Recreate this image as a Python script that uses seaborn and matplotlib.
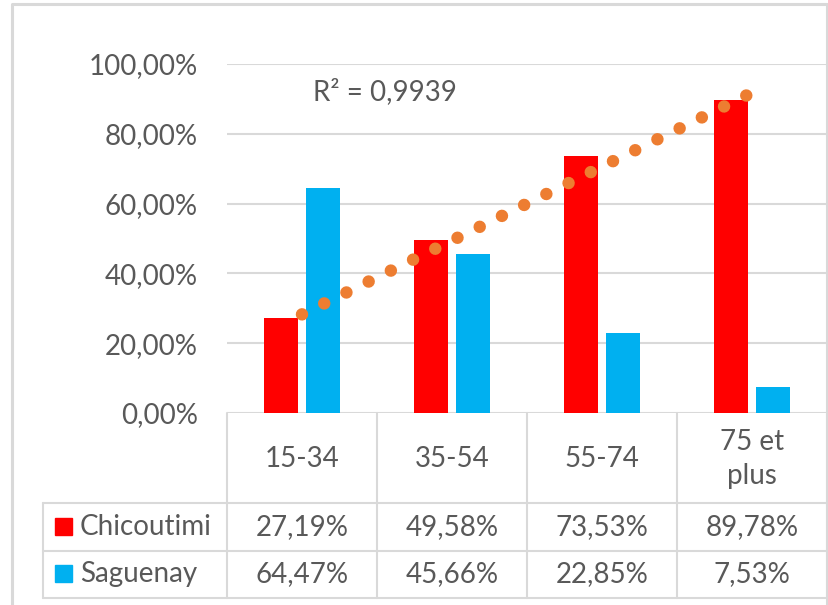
import numpy as np
import pandas as pd
import matplotlib.pyplot as plt
import seaborn as sns
from matplotlib.ticker import FuncFormatter
from matplotlib.patches import Rectangle

# data
categories = ["15-34", "35-54", "55-74", "75 et\nplus"]
chicoutimi = [27.19, 49.58, 73.53, 89.78]
saguenay = [64.47, 45.66, 22.85, 7.53]
series_names = ["Chicoutimi", "Saguenay"]
colors = ["#FF0000", "#00B0F0"]

df = pd.DataFrame({
    "age": categories * 2,
    "ville": [series_names[0]] * 4 + [series_names[1]] * 4,
    "taux": chicoutimi + saguenay,
})

sns.set_style("white")
plt.rcParams["font.family"] = ["Lato", "DejaVu Sans"]
txt_color = "#595959"
grid_color = "#d9d9d9"
fs = 20

def pct(v, pos=None):
    return f"{v:.2f}".replace(".", ",") + "%"

W, H = 829, 605
fig = plt.figure(figsize=(W / 100, H / 100), dpi=100)

# overlay axes in pixel coordinates for the data table and the frame
tab = fig.add_axes([0, 0, 1, 1], zorder=0)
tab.set_xlim(0, W)
tab.set_ylim(H, 0)
tab.axis("off")

# plot area
x0, x1, y_top, y_bot = 227, 827, 64, 413
ax = fig.add_axes([x0 / W, (H - y_bot) / H, (x1 - x0) / W, (y_bot - y_top) / H], zorder=1)
ax.patch.set_alpha(0)

sns.barplot(data=df, x="age", y="taux", hue="ville", palette=colors,
            width=0.57, gap=0.2, errorbar=None, legend=False, ax=ax,
            linewidth=0, saturation=1)

# linear trendline for Chicoutimi
xs = np.arange(1, len(chicoutimi) + 1)
slope, intercept = np.polyfit(xs, chicoutimi, 1)
fit = slope * xs + intercept
r2 = 1 - np.sum((np.array(chicoutimi) - fit) ** 2) / np.sum((np.array(chicoutimi) - np.mean(chicoutimi)) ** 2)
pos = np.array([0, len(categories) - 1])
ax.plot(pos, slope * (pos + 1) + intercept, color="#ED7D31", lw=9,
        linestyle=(0, (0.001, 1.98)), dash_capstyle="round", zorder=5)
ax.text(0.55, 92, ("R² = " + f"{r2:.4f}").replace(".", ","), fontsize=fs,
        color=txt_color, ha="center", va="center")

ax.set_xlim(-0.5, len(categories) - 0.5)
ax.set_ylim(0, 100)
ax.set_yticks(np.arange(0, 101, 20))
ax.yaxis.set_major_formatter(FuncFormatter(pct))
ax.tick_params(axis="y", length=0, pad=21, labelsize=fs, labelcolor=txt_color)
ax.tick_params(axis="x", length=0, labelbottom=False)
ax.set_xlabel("")
ax.set_ylabel("")
ax.yaxis.grid(True, color=grid_color, lw=1.5)
ax.set_axisbelow(True)
for s in ax.spines.values():
    s.set_visible(False)

# data table
col_w = (x1 - x0) / len(categories)
col_edges = [x0 + col_w * i for i in range(len(categories) + 1)]
row_lines = [y_bot, 503, 551, 598]
leg_left = 43
lw_t = 1.5
for xe in col_edges:
    tab.plot([xe, xe], [y_bot, row_lines[-1]], color=grid_color, lw=lw_t)
tab.plot([leg_left, leg_left], [row_lines[1], row_lines[-1]], color=grid_color, lw=lw_t)
for ye in row_lines[1:]:
    tab.plot([leg_left, x1], [ye, ye], color=grid_color, lw=lw_t)

for i, cat in enumerate(categories):
    cx = x0 + col_w * (i + 0.5)
    tab.text(cx, 459, cat, fontsize=fs, color=txt_color, ha="center", va="center",
             linespacing=1.35)

row_y = [527, 574]
for r, (name, vals, c) in enumerate(zip(series_names, [chicoutimi, saguenay], colors)):
    y = row_y[r]
    tab.add_patch(Rectangle((55, y - 9), 17, 17, color=c))
    tab.text(80, y, name, fontsize=fs, color=txt_color, ha="left", va="center")
    for i, v in enumerate(vals):
        tab.text(x0 + col_w * (i + 0.5), y, pct(v), fontsize=fs, color=txt_color,
                 ha="center", va="center")

# chart frame
tab.plot([12, 12, 827, 827], [H, 4, 4, H], color=grid_color, lw=2.2)

plt.savefig("out.png", dpi=100)
